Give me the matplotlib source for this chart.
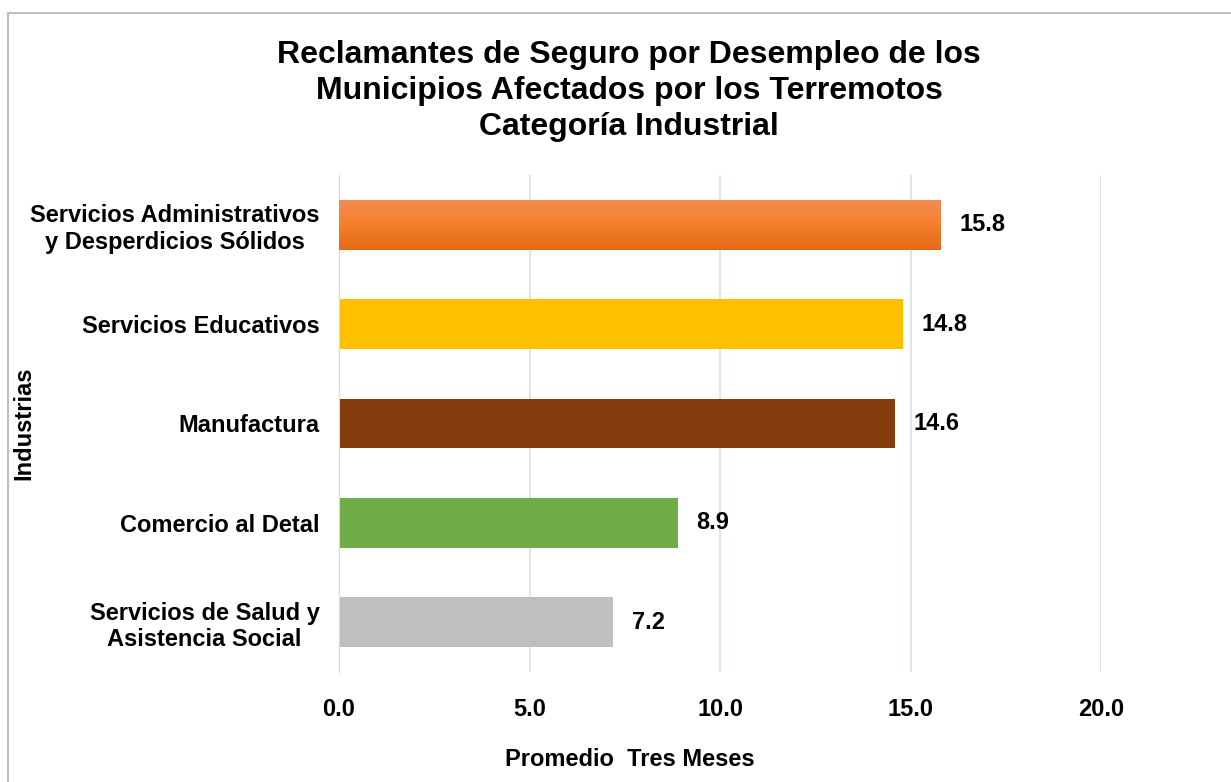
import numpy as np
import matplotlib.pyplot as plt
from matplotlib.patches import Rectangle
from matplotlib.colors import LinearSegmentedColormap

plt.rcParams['font.family'] = ['Liberation Sans', 'DejaVu Sans']
plt.rcParams['font.weight'] = 'bold'

industrias = ['Servicios de Salud y\nAsistencia Social', 'Comercio al Detal', 'Manufactura',
              'Servicios Educativos', 'Servicios Administrativos\ny Desperdicios Sólidos']
valores = [7.2, 8.9, 14.6, 14.8, 15.8]
colores = ['#BFBFBF', '#70AD47', '#843C0C', '#FFC000', '#F07F2E']
xticks = [0, 5, 10, 15, 20]

fig = plt.figure(figsize=(12.31, 7.82), dpi=100)
ax = fig.add_axes([0.2754, 0.1407, 0.619, 0.6355])

y = np.arange(len(industrias))
bars = ax.barh(y, valores, height=0.5, color=colores, zorder=2)

# gradient on the top bar
top = bars[-1]
grad = np.linspace(0, 1, 100).reshape(-1, 1)
cm = LinearSegmentedColormap.from_list('og', ['#E46A17', '#F47F2A', '#F28C52'])
x0, y0 = top.get_x(), top.get_y()
w, h = top.get_width(), top.get_height()
im = ax.imshow(grad, cmap=cm, aspect='auto', extent=[x0, x0 + w, y0, y0 + h],
               origin='lower', zorder=3)
im.set_clip_path(Rectangle((x0, y0), w, h, transform=ax.transData))

for yi, v in zip(y, valores):
    ax.text(v + 0.48, yi, f'{v:.1f}', va='center', ha='left', fontsize=17, fontweight='bold')

ax.set_xlim(0, 20)
ax.set_ylim(-0.5, 4.5)
ax.set_xticks(xticks)
ax.set_xticklabels([f'{t:.1f}' for t in xticks], fontsize=17, fontweight='bold')
ax.set_yticks(y)
ax.set_yticklabels(industrias, fontsize=17, fontweight='bold', ha='right', linespacing=1.2)
for lbl in ax.get_yticklabels():
    lbl.set_multialignment('center')
ax.tick_params(length=0, pad=19, axis='x')
ax.tick_params(length=0, pad=14, axis='y')
ax.xaxis.grid(True, color='#D9DEE8', linewidth=1.2, zorder=0)
ax.set_axisbelow(True)
for s in ['top', 'right', 'bottom']:
    ax.spines[s].set_visible(False)
ax.spines['left'].set_color('#D9D9D9')

ax.set_xlabel('Promedio  Tres Meses', fontsize=17, fontweight='bold')
ax.xaxis.set_label_coords(0.381, -0.153)
ax.set_ylabel('Industrias', fontsize=17, fontweight='bold')
ax.yaxis.set_label_coords(-0.398, 0.5)

fig.text(0.511, 0.8835, 'Reclamantes de Seguro por Desempleo de los\nMunicipios Afectados por los Terremotos\nCategoría Industrial',
         ha='center', va='center', fontsize=23, fontweight='bold', linespacing=1.25)

fig.add_artist(Rectangle((8 / 1231, -0.01), 1.0, 1 - 13 / 782 + 0.01, transform=fig.transFigure,
                         fill=False, edgecolor='#BFBFBF', linewidth=1.5))

fig.savefig('out.png', dpi=100)
